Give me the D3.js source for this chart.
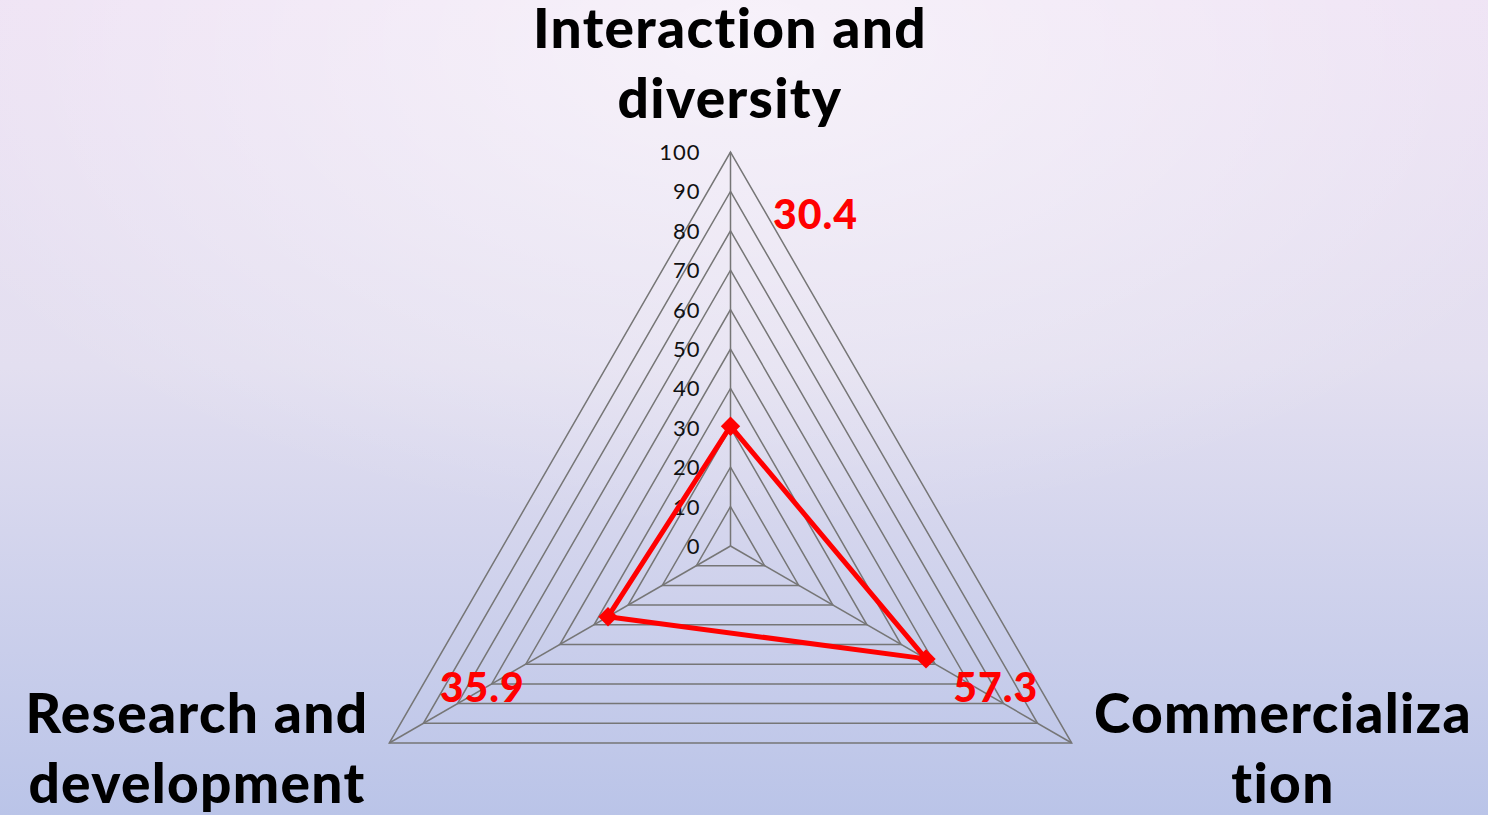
<!DOCTYPE html>
<html>
<head>
<meta charset="utf-8">
<script src="https://cdn.jsdelivr.net/npm/d3@7"></script>
<style>
  html, body { margin: 0; padding: 0; overflow: hidden; }
  svg { display: block; }
  text { font-variant-ligatures: none; }
</style>
</head>
<body>
<svg id="radarSvg"></svg>
<script>
// chart data
const categories = ["Interaction and diversity", "Commercialization", "Research and development"];
const categoryLines = [["Interaction and", "diversity"], ["Commercializa", "tion"], ["Research and", "development"]];
const values = [30.4, 57.3, 35.9];
const tickValues = [0, 10, 20, 30, 40, 50, 60, 70, 80, 90, 100];

const width = 1488, height = 815;
const cx = 730.5, cy = 546;

const svg = d3.select("#radarSvg")
    .attr("width", width)
    .attr("height", height);

// background
let defs = svg.append("defs");
let bg = defs.append("linearGradient")
    .attr("id", "bgGrad")
    .attr("x1", 0).attr("y1", 0).attr("x2", 0).attr("y2", 1);
bg.append("stop").attr("offset", "0%").attr("stop-color", "#eee2f4");
bg.append("stop").attr("offset", "45%").attr("stop-color", "#e3dff0");
bg.append("stop").attr("offset", "100%").attr("stop-color", "#bac4e8");

let glow = defs.append("radialGradient")
    .attr("id", "glow")
    .attr("cx", 0.5).attr("cy", 0.05).attr("r", 0.6);
glow.append("stop").attr("offset", "0%").attr("stop-color", "#ffffff").attr("stop-opacity", 0.55);
glow.append("stop").attr("offset", "100%").attr("stop-color", "#ffffff").attr("stop-opacity", 0);

svg.append("rect").attr("width", width).attr("height", height).attr("fill", "url(#bgGrad)");
svg.append("rect").attr("width", width).attr("height", height).attr("fill", "url(#glow)");

let r = d3.scaleLinear().domain([0, 100]).range([0, 394]);
let angle = d3.scaleLinear().domain([0, categories.length]).range([0, 2 * Math.PI]);

function pt(i, v) {
    let a = angle(i);
    return [cx + r(v) * Math.sin(a), cy - r(v) * Math.cos(a)];
}

let g = svg.append("g");

// grid rings
g.selectAll("polygon.ring")
    .data(tickValues.filter(v => v > 0))
    .join("polygon")
    .attr("class", "ring")
    .attr("points", v => categories.map((c, i) => pt(i, v).join(",")).join(" "))
    .style("fill", "none")
    .style("stroke", "#767676")
    .style("stroke-width", 1.5);

// spokes
g.selectAll("line.spoke")
    .data(categories)
    .join("line")
    .attr("class", "spoke")
    .attr("x1", cx).attr("y1", cy)
    .attr("x2", (d, i) => pt(i, 100)[0])
    .attr("y2", (d, i) => pt(i, 100)[1])
    .style("stroke", "#767676")
    .style("stroke-width", 1.5);

// tick labels
g.selectAll("text.tick")
    .data(tickValues)
    .join("text")
    .attr("class", "tick")
    .attr("x", cx - 30)
    .attr("y", v => cy - r(v))
    .attr("dy", "0.36em")
    .attr("text-anchor", "end")
    .style("font-family", "Lato, 'Open Sans', sans-serif")
    .style("font-size", "22px")
    .style("letter-spacing", "1px")
    .style("fill", "#111")
    .text(d => d);

// series
let line = d3.line().curve(d3.curveLinearClosed);
g.append("path")
    .datum(values.map((v, i) => pt(i, v)))
    .attr("d", line)
    .style("fill", "none")
    .style("stroke", "#ff0000")
    .style("stroke-width", 5)
    .style("stroke-linejoin", "round");

g.selectAll("path.marker")
    .data(values)
    .join("path")
    .attr("class", "marker")
    .attr("d", d3.symbol(d3.symbolDiamond2, 240))
    .attr("transform", (v, i) => "translate(" + pt(i, v) + ")")
    .style("fill", "#ff0000");

// data labels, placed near the outer end of each axis
let labelOffsets = [[85, 62], [-76, -56], [93, -56]];
g.selectAll("text.value")
    .data(values)
    .join("text")
    .attr("class", "value")
    .attr("x", (v, i) => pt(i, 100)[0] + labelOffsets[i][0])
    .attr("y", (v, i) => pt(i, 100)[1] + labelOffsets[i][1])
    .attr("dy", "0.36em")
    .attr("text-anchor", "middle")
    .style("font-family", "Lato, 'Open Sans', sans-serif")
    .style("font-weight", "900")
    .style("font-size", "41px")
    .style("letter-spacing", "1px")
    .style("fill", "#ff0000")
    .text(d => d);

// category labels
let catPos = [[730, 48], [1283, 733], [197, 733]];
let catFont = 55;
let cats = g.selectAll("text.cat")
    .data(categoryLines)
    .join("text")
    .attr("class", "cat")
    .attr("text-anchor", "middle")
    .style("font-family", "Lato, 'Open Sans', sans-serif")
    .style("font-weight", "900")
    .style("font-size", catFont + "px")
    .style("fill", "#000");

cats.selectAll("tspan")
    .data((d, i) => d.map(t => ({ t: t, i: i })))
    .join("tspan")
    .attr("x", d => catPos[d.i][0])
    .attr("y", (d, j) => catPos[d.i][1] + j * 70)
    .text(d => d.t);

// widen letter spacing so first label matches the original width
let first = cats.select("tspan");
let w = first.node().getComputedTextLength();
let n = first.text().length;
cats.style("letter-spacing", Math.max(0, (394 - w) / n) + "px");
</script>
</body>
</html>
